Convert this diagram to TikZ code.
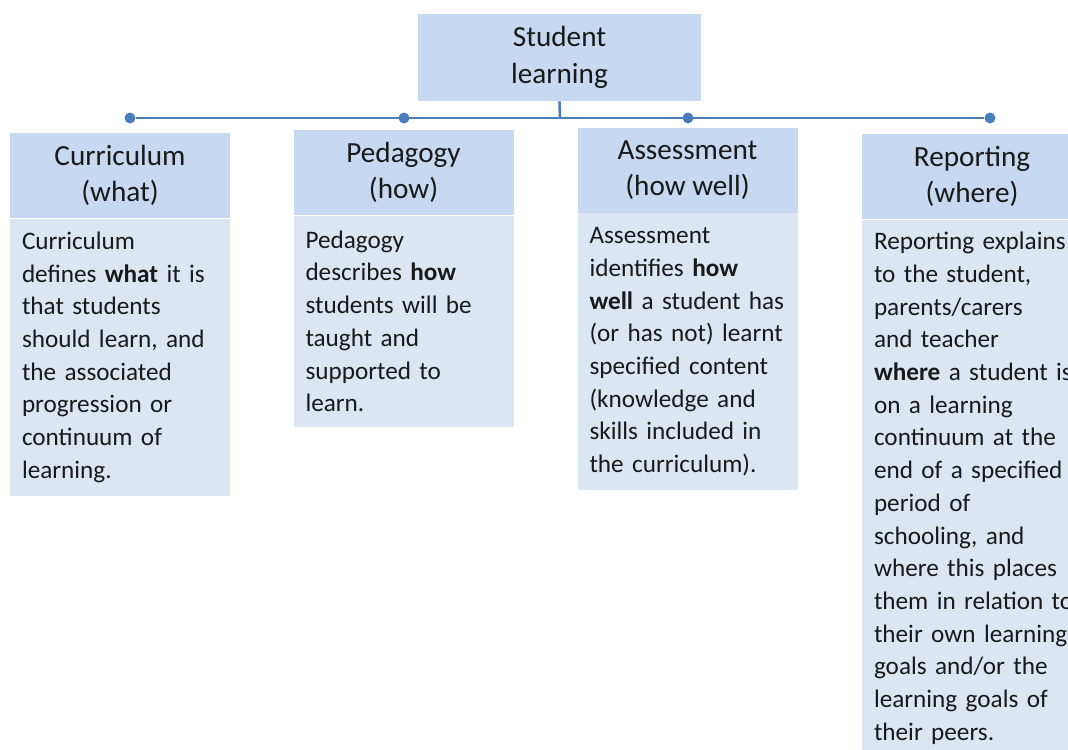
\documentclass[tikz,border=0pt]{standalone}
\usepackage{fontspec}
\setmainfont{Carlito}
\usepackage{tikz}
\definecolor{linkblue}{RGB}{74,126,187}
\definecolor{headblue}{RGB}{198,217,240}
\definecolor{bodyblue}{RGB}{220,230,242}

\begin{document}
\begin{tikzpicture}[x=0.5pt,y=-0.5pt,
	head/.style={fill=headblue,minimum width=110pt,minimum height=42.5pt,align=center,inner sep=0pt,text=black!90,font=\fontsize{14.6}{18.3}\selectfont},
	body/.style={fill=bodyblue,anchor=north,text width=98pt,inner xsep=6pt,inner ysep=0pt,align=left,text=black!90,font=\fontsize{12.6}{16.35}\selectfont},
	dot/.style={circle,fill=linkblue,inner sep=0pt,minimum size=5.5pt},
	link/.style={draw=linkblue,line width=1.3pt}]
	\useasboundingbox (0,0) rectangle (1068,749);
	\clip (0,0) rectangle (1068,749);

	% top of the tree
	\node[head,minimum width=141.5pt,minimum height=43.5pt] (top) at (559.5,57.5) {Student\\learning};

	% bar and its end points
	\coordinate (bar) at (560,118);
	\node[dot] (d1) at (130,118) {};
	\node[dot] (d2) at (404,118) {};
	\node[dot] (d3) at (688,118) {};
	\node[dot] (d4) at (990,118) {};
	\draw[link] (d1) -- (d4);
	\draw[link] (top.south) -- (bar);

	% the four columns
	\node[head] (curr) at (120,175.5) {Curriculum\\(what)};
	\node[body,minimum height=138.5pt] (currtxt) at (curr.south) {Curriculum\\defines \textbf{what} it is\\that students\\should learn, and\\the associated\\progression or\\continuum of\\learning.};

	\node[head] (ped) at (403.5,172.5) {Pedagogy\\(how)};
	\node[body,minimum height=105.5pt] (pedtxt) at (ped.south) {Pedagogy\\describes \textbf{how}\\students will be\\taught and\\supported to\\learn.};

	\node[head] (ass) at (687.5,170) {Assessment\\(how well)};
	\node[body,minimum height=138.5pt] (asstxt) at (ass.south) {Assessment\\identifies \textbf{how}\\\textbf{well} a student has\\(or has not) learnt\\specified content\\(knowledge and\\skills included in\\the curriculum).};

	\node[head] (rep) at (972,176.5) {Reporting\\(where)};
	\node[body,minimum height=268.5pt,text width=110pt,anchor=north west] (reptxt) at (rep.south west) {Reporting explains\\to the student,\\parents/carers\\and teacher\\\textbf{where} a student is\\on a learning\\continuum at the\\end of a specified\\period of\\schooling, and\\where this places\\them in relation to\\their own learning\\goals and/or the\\learning goals of\\their peers.};
\end{tikzpicture}
\end{document}
